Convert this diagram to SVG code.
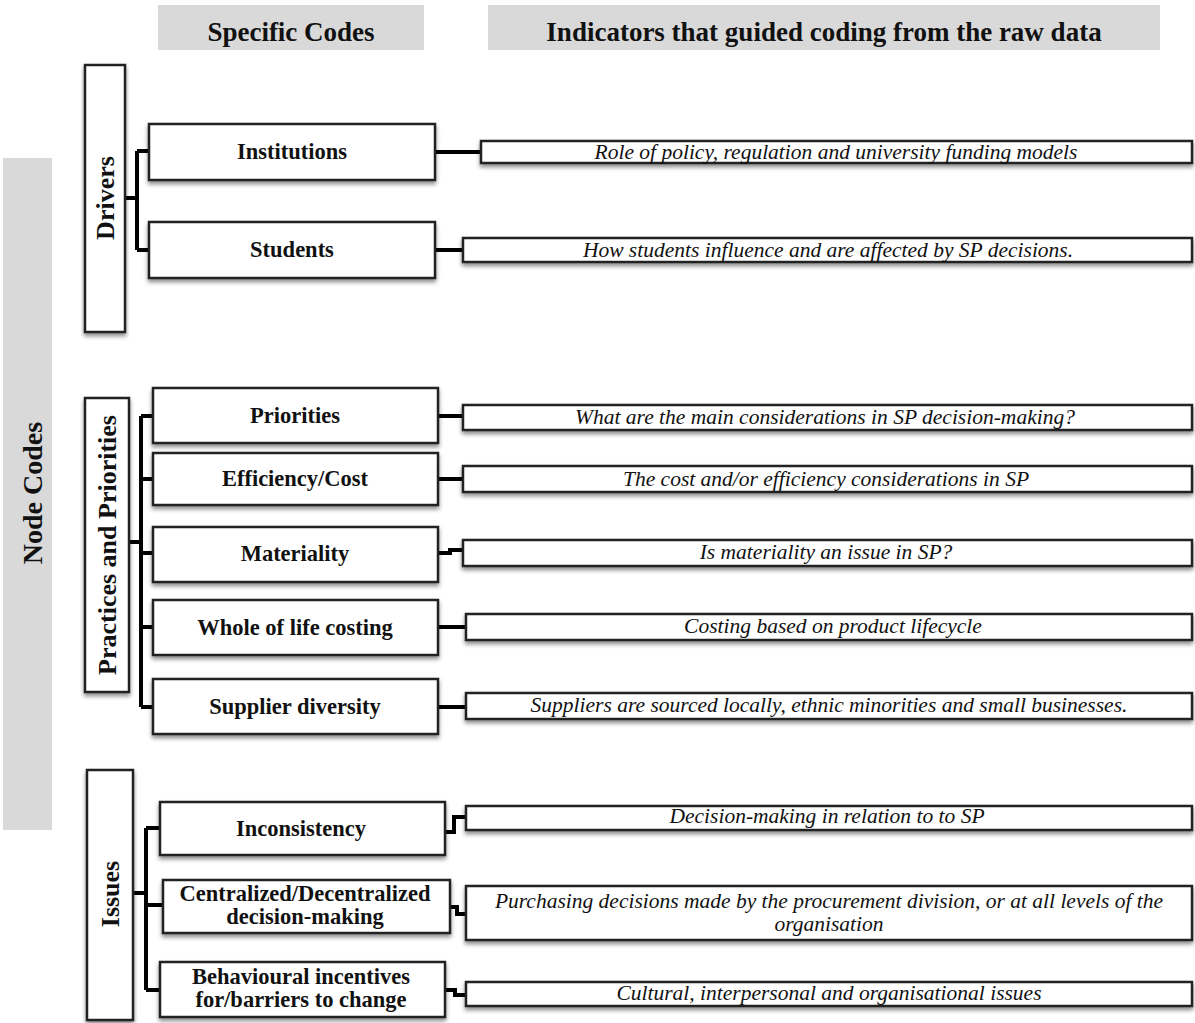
<svg xmlns="http://www.w3.org/2000/svg" width="1195" height="1023" viewBox="0 0 1195 1023">
<defs>
<filter id="sh" x="-10%" y="-30%" width="120%" height="170%">
<feDropShadow dx="0" dy="3" stdDeviation="2.2" flood-color="#000" flood-opacity="0.45"/>
</filter>
<clipPath id="hc1"><rect x="158" y="5" width="266" height="45"/></clipPath>
<clipPath id="hc2"><rect x="488" y="5" width="672" height="45"/></clipPath>
</defs>
<style>
.hdr{fill:#d9d9d9}
.ht{font-family:"Liberation Serif",serif;font-weight:bold;font-size:27px;fill:#111;text-anchor:middle}
.box{fill:#fff;stroke:#222;stroke-width:2.5;filter:url(#sh)}
.code{font-family:"Liberation Serif",serif;font-weight:bold;font-size:22.5px;fill:#111;text-anchor:middle}
.cat{font-family:"Liberation Serif",serif;font-weight:bold;font-size:26px;fill:#111;text-anchor:middle}
.nc{font-size:28px}
.ind{font-family:"Liberation Serif",serif;font-style:italic;font-size:21.5px;fill:#111;text-anchor:middle}
.con{fill:none;stroke:#000;stroke-width:4;stroke-linejoin:miter}
</style>
<g id="header-specific">
<rect class="hdr" x="158" y="5" width="266" height="45"/>
<text class="ht" x="291" y="41" clip-path="url(#hc1)">Specific Codes</text>
</g>
<g id="header-indicators">
<rect class="hdr" x="488" y="5" width="672" height="45"/>
<text class="ht" x="824" y="41" clip-path="url(#hc2)">Indicators that guided coding from the raw data</text>
</g>
<g id="node-codes">
<rect class="hdr" x="3" y="158" width="49" height="672"/>
<text class="cat nc" transform="translate(42,493) rotate(-90)">Node Codes</text>
</g>
<g id="connectors">
<path class="con" d="M125,198 H137 M137,151 V250 M137,151 H149 M137,250 H149"/>
<path class="con" d="M435,152 H481"/>
<path class="con" d="M435,250 H463"/>
<path class="con" d="M129,542 H141 M141,416 V707 M141,416 H153 M141,479 H153 M141,553 H153 M141,627 H153 M141,707 H153"/>
<path class="con" d="M438,416 H463"/>
<path class="con" d="M438,479 H463"/>
<path class="con" d="M438,553 H450 V550 H463"/>
<path class="con" d="M438,627 H466"/>
<path class="con" d="M438,707 H466"/>
<path class="con" d="M133,893 H146 M146,828 V990 M146,828 H160 M146,905 H163 M146,990 H160"/>
<path class="con" d="M445,832 H454 V817 H466"/>
<path class="con" d="M450,907 H457 V914 H466"/>
<path class="con" d="M445,990 H455 V995 H466"/>
</g>
<g id="drivers">
<rect class="box" x="85" y="65" width="40" height="267"/>
<text class="cat" transform="translate(114,198) rotate(-90)">Drivers</text>
</g>
<g id="institutions">
<rect class="box" x="149" y="124" width="286" height="56"/>
<text class="code" x="292" y="159">Institutions</text>
</g>
<g id="students">
<rect class="box" x="149" y="222" width="286" height="56"/>
<text class="code" x="292" y="257">Students</text>
</g>
<g id="ind-institutions">
<rect class="box" x="481" y="141" width="711" height="22"/>
<text class="ind" x="836" y="159">Role of policy, regulation and university funding models</text>
</g>
<g id="ind-students">
<rect class="box" x="463" y="238" width="729" height="24"/>
<text class="ind" x="828" y="257">How students influence and are affected by  SP decisions.</text>
</g>
<g id="practices">
<rect class="box" x="85" y="398" width="44" height="294"/>
<text class="cat" transform="translate(116,545) rotate(-90)">Practices and Priorities</text>
</g>
<g id="priorities">
<rect class="box" x="153" y="388" width="285" height="55"/>
<text class="code" x="295" y="423">Priorities</text>
</g>
<g id="efficiency">
<rect class="box" x="153" y="453" width="285" height="52"/>
<text class="code" x="295" y="486">Efficiency/Cost</text>
</g>
<g id="materiality">
<rect class="box" x="153" y="527" width="285" height="55"/>
<text class="code" x="295" y="561">Materiality</text>
</g>
<g id="wholelife">
<rect class="box" x="153" y="600" width="285" height="55"/>
<text class="code" x="295" y="635">Whole of life costing</text>
</g>
<g id="supplier">
<rect class="box" x="153" y="679" width="285" height="55"/>
<text class="code" x="295" y="714">Supplier diversity</text>
</g>
<g id="ind-priorities">
<rect class="box" x="463" y="405" width="729" height="25"/>
<text class="ind" x="825" y="424">What are the main considerations in SP decision-making?</text>
</g>
<g id="ind-efficiency">
<rect class="box" x="463" y="466" width="729" height="26"/>
<text class="ind" x="826" y="486">The cost and/or efficiency considerations in SP</text>
</g>
<g id="ind-materiality">
<rect class="box" x="463" y="540" width="729" height="26"/>
<text class="ind" x="826" y="559">Is materiality an issue in SP?</text>
</g>
<g id="ind-wholelife">
<rect class="box" x="466" y="614" width="726" height="26"/>
<text class="ind" x="833" y="633">Costing based on product lifecycle</text>
</g>
<g id="ind-supplier">
<rect class="box" x="466" y="693" width="726" height="26"/>
<text class="ind" x="829" y="712">Suppliers are sourced locally, ethnic minorities and small businesses.</text>
</g>
<g id="issues">
<rect class="box" x="87" y="770" width="46" height="250"/>
<text class="cat" transform="translate(119,894) rotate(-90)">Issues</text>
</g>
<g id="inconsistency">
<rect class="box" x="160" y="802" width="285" height="53"/>
<text class="code" x="301" y="836">Inconsistency</text>
</g>
<g id="centralized">
<rect class="box" x="163" y="880" width="287" height="53"/>
<text class="code" x="305" y="901">Centralized/Decentralized</text>
<text class="code" x="305" y="924">decision-making</text>
</g>
<g id="behavioural">
<rect class="box" x="160" y="962" width="285" height="55"/>
<text class="code" x="301" y="984">Behavioural incentives</text>
<text class="code" x="301" y="1007">for/barriers to change</text>
</g>
<g id="ind-inconsistency">
<rect class="box" x="466" y="806" width="726" height="24"/>
<text class="ind" x="827" y="823">Decision-making in relation to to SP</text>
</g>
<g id="ind-centralized">
<rect class="box" x="466" y="886" width="726" height="54"/>
<text class="ind" x="829" y="908">Purchasing decisions made by the procurement division, or at all levels of the</text>
<text class="ind" x="829" y="931">organisation</text>
</g>
<g id="ind-behavioural">
<rect class="box" x="466" y="982" width="726" height="24"/>
<text class="ind" x="829" y="1000">Cultural, interpersonal and organisational issues</text>
</g>
</svg>
